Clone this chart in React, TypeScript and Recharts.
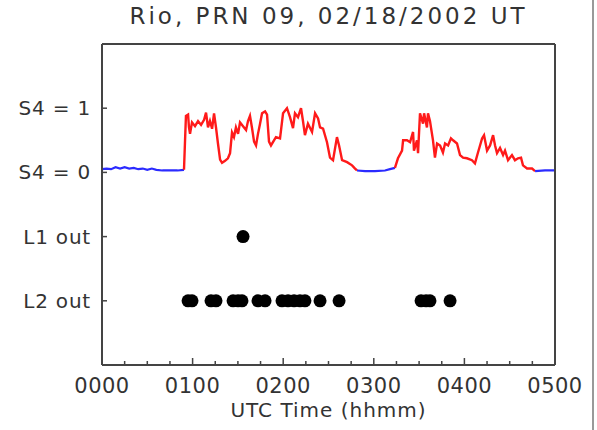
import React from 'react';
import { ComposedChart, Line, Scatter, XAxis, YAxis } from 'recharts';

// Time in minutes after 0000 UT, S4 index values
const quietStart = [
  { t: 0, s4: 0.05 }, { t: 3, s4: 0.06 }, { t: 6, s4: 0.05 }, { t: 9, s4: 0.08 },
  { t: 12, s4: 0.06 }, { t: 15, s4: 0.08 }, { t: 18, s4: 0.06 }, { t: 21, s4: 0.07 },
  { t: 24, s4: 0.05 }, { t: 27, s4: 0.06 }, { t: 30, s4: 0.04 }, { t: 33, s4: 0.06 },
  { t: 36, s4: 0.04 }, { t: 40, s4: 0.03 }, { t: 45, s4: 0.03 }, { t: 50, s4: 0.03 },
  { t: 54.3, s4: 0.04 },
];

const activeFirst = [
  { t: 54.3, s4: 0.04 }, { t: 55, s4: 0.5 }, { t: 55.6, s4: 0.88 }, { t: 57, s4: 0.9 },
  { t: 57.6, s4: 0.7 }, { t: 58.3, s4: 0.6 }, { t: 59.6, s4: 0.78 }, { t: 61.6, s4: 0.72 },
  { t: 63.6, s4: 0.8 }, { t: 65.6, s4: 0.74 }, { t: 67.6, s4: 0.82 }, { t: 68.9, s4: 0.93 },
  { t: 70.2, s4: 0.7 }, { t: 71.5, s4: 0.8 }, { t: 72.9, s4: 0.68 }, { t: 74.2, s4: 0.92 },
  { t: 75.5, s4: 0.7 }, { t: 76.8, s4: 0.45 }, { t: 78.2, s4: 0.2 }, { t: 79.5, s4: 0.15 },
  { t: 81.5, s4: 0.18 }, { t: 83.4, s4: 0.22 }, { t: 84.8, s4: 0.3 }, { t: 86.1, s4: 0.62 },
  { t: 87.4, s4: 0.55 }, { t: 88.7, s4: 0.7 }, { t: 90.1, s4: 0.6 }, { t: 91.4, s4: 0.78 },
  { t: 93.4, s4: 0.72 }, { t: 95.4, s4: 0.66 }, { t: 96.7, s4: 0.8 }, { t: 98, s4: 0.88 },
  { t: 99.3, s4: 0.7 }, { t: 100.7, s4: 0.48 }, { t: 102, s4: 0.42 }, { t: 103.3, s4: 0.6 },
  { t: 104.6, s4: 0.75 }, { t: 106, s4: 0.92 }, { t: 108, s4: 0.95 }, { t: 109.3, s4: 0.9 },
  { t: 110.6, s4: 0.48 }, { t: 111.9, s4: 0.42 }, { t: 113.9, s4: 0.5 }, { t: 115.2, s4: 0.55 },
  { t: 117.9, s4: 0.53 }, { t: 119.9, s4: 0.92 }, { t: 122.5, s4: 1.0 }, { t: 124.5, s4: 0.86 },
  { t: 126.5, s4: 0.69 }, { t: 127.8, s4: 0.92 }, { t: 129.8, s4: 0.86 }, { t: 131.8, s4: 1.0 },
  { t: 133.1, s4: 0.8 }, { t: 134.4, s4: 0.58 }, { t: 136.4, s4: 0.76 }, { t: 139.1, s4: 0.63 },
  { t: 141.1, s4: 0.92 }, { t: 143.1, s4: 0.84 }, { t: 144.4, s4: 0.7 }, { t: 146.4, s4: 0.68 },
  { t: 149, s4: 0.47 }, { t: 151, s4: 0.23 }, { t: 153, s4: 0.19 }, { t: 155.6, s4: 0.55 },
  { t: 157, s4: 0.42 }, { t: 159, s4: 0.19 }, { t: 162.3, s4: 0.16 }, { t: 165.6, s4: 0.11 },
  { t: 167.6, s4: 0.06 }, { t: 168.9, s4: 0.03 },
];

const quietMiddle = [
  { t: 168.9, s4: 0.03 }, { t: 174.2, s4: 0.02 }, { t: 180.8, s4: 0.02 },
  { t: 187.4, s4: 0.03 }, { t: 190.7, s4: 0.05 }, { t: 194, s4: 0.07 },
];

const activeSecond = [
  { t: 194, s4: 0.07 }, { t: 196, s4: 0.22 }, { t: 198.7, s4: 0.34 }, { t: 199.4, s4: 0.5 },
  { t: 202, s4: 0.5 }, { t: 204, s4: 0.47 }, { t: 206, s4: 0.63 }, { t: 206.6, s4: 0.34 },
  { t: 208.6, s4: 0.5 }, { t: 209.3, s4: 0.3 }, { t: 210.6, s4: 0.92 }, { t: 212.6, s4: 0.76 },
  { t: 213.3, s4: 0.92 }, { t: 215.2, s4: 0.7 }, { t: 215.9, s4: 0.92 }, { t: 217.2, s4: 0.8 },
  { t: 219.2, s4: 0.5 }, { t: 220.5, s4: 0.23 }, { t: 221.9, s4: 0.45 }, { t: 223.9, s4: 0.42 },
  { t: 225.8, s4: 0.31 }, { t: 227.2, s4: 0.45 }, { t: 229.2, s4: 0.42 }, { t: 231.1, s4: 0.53 },
  { t: 232.5, s4: 0.5 }, { t: 235.1, s4: 0.45 }, { t: 237.1, s4: 0.27 }, { t: 239.1, s4: 0.23 },
  { t: 241.7, s4: 0.22 }, { t: 245, s4: 0.19 }, { t: 247, s4: 0.14 }, { t: 249, s4: 0.31 },
  { t: 251.7, s4: 0.53 }, { t: 253, s4: 0.58 }, { t: 255, s4: 0.34 }, { t: 257, s4: 0.42 },
  { t: 259, s4: 0.58 }, { t: 260.3, s4: 0.42 }, { t: 261.6, s4: 0.3 }, { t: 263.6, s4: 0.38 },
  { t: 265.6, s4: 0.27 }, { t: 266.9, s4: 0.34 }, { t: 268.9, s4: 0.19 }, { t: 271.5, s4: 0.27 },
  { t: 273.5, s4: 0.19 }, { t: 275.5, s4: 0.22 }, { t: 277.5, s4: 0.23 }, { t: 278.8, s4: 0.11 },
  { t: 281.5, s4: 0.06 }, { t: 284.8, s4: 0.06 }, { t: 286.8, s4: 0.02 },
];

const quietEnd = [
  { t: 286.8, s4: 0.02 }, { t: 293.4, s4: 0.03 }, { t: 300, s4: 0.03 },
];

// loss-of-lock times (minutes)
const l1OutTimes = [93.4];
const l2OutTimes = [57, 59.6, 72.2, 75.5, 86.8, 90.1, 92.7, 103.3, 108, 119.2, 123.2, 127.2, 131.1, 134.4, 144.4, 157, 211.3, 214.6, 217.2, 230.5];

const xTicks = [0, 15, 30, 45, 60, 75, 90, 105, 120, 135, 150, 165, 180, 195, 210, 225, 240, 255, 270, 285, 300];
const xTickLabels: Record<number, string> = { 0: '0000', 60: '0100', 120: '0200', 180: '0300', 240: '0400', 300: '0500' };
const yTicks = [-2, -1, 0, 1];
const yTickLabels: Record<number, string> = { 1: 'S4 = 1', 0: 'S4 = 0', '-1': 'L1 out', '-2': 'L2 out' };

const L1_ROW = -1;
const L2_ROW = -2;

const frameColor = '#444';
const textColor = '#333';
const font = 'DejaVu Sans';

const l1Points = l1OutTimes.map(t => ({ t, row: L1_ROW }));
const l2Points = l2OutTimes.map(t => ({ t, row: L2_ROW }));

const BottomTick = (props: any) => {
  const { x, y, payload } = props;
  const major = payload.value % 60 === 0;
  return (
    <g>
      <line x1={x} x2={x} y1={y} y2={y - (major ? 7 : 4)} stroke={frameColor} strokeWidth={1.5} />
      {major && (
        <text x={x} y={y + 28} textAnchor="middle" fill={textColor} fontFamily={font} fontSize={21} letterSpacing={0.5}>
          {xTickLabels[payload.value]}
        </text>
      )}
    </g>
  );
};

const TopTick = (props: any) => {
  const { x, y, payload } = props;
  const major = payload.value % 60 === 0;
  return <line x1={x} x2={x} y1={y} y2={y + (major ? 7 : 4)} stroke={frameColor} strokeWidth={1.5} />;
};

const LeftTick = (props: any) => {
  const { x, y, payload } = props;
  return (
    <g>
      <line x1={x} x2={x + 5} y1={y} y2={y} stroke={frameColor} strokeWidth={1.5} />
      <text x={x - 11} y={y} dy={7} textAnchor="end" fill={textColor} fontFamily={font} fontSize={20} letterSpacing={0.8}>
        {yTickLabels[payload.value]}
      </text>
    </g>
  );
};

const RightTick = (props: any) => {
  const { x, y } = props;
  return <line x1={x} x2={x - 5} y1={y} y2={y} stroke={frameColor} strokeWidth={1.5} />;
};

const Dot = (p: any) => <circle cx={p.cx} cy={p.cy} r={6.5} fill="#000" />;

export default function App() {
  return (
    <div style={{ position: 'absolute', left: 0, top: 0, width: 597, height: 430, background: '#fff' }}>
      <div
        style={{
          position: 'absolute', left: 102, top: 3, width: 453, textAlign: 'center',
          fontFamily: font, fontSize: 23, letterSpacing: 3, color: textColor, whiteSpace: 'nowrap',
        }}
      >
        Rio, PRN 09, 02/18/2002 UT
      </div>
      <div
        style={{
          position: 'absolute', left: 102, top: 398, width: 453, textAlign: 'center',
          fontFamily: font, fontSize: 20, letterSpacing: 1, color: textColor, whiteSpace: 'nowrap',
        }}
      >
        UTC Time (hhmm)
      </div>
      <div style={{ position: 'absolute', left: 592, top: 0, width: 2, height: 430, background: '#999' }} />
      <ComposedChart width={597} height={430} margin={{ top: 0, right: 0, bottom: 0, left: 0 }}>
        <XAxis
          xAxisId="bottom" dataKey="t" type="number" domain={[0, 300]} ticks={xTicks}
          orientation="bottom" height={65} tickSize={0} tickMargin={0} tickLine={false}
          axisLine={{ stroke: frameColor, strokeWidth: 2 }} tick={<BottomTick />} interval={0}
        />
        <XAxis
          xAxisId="top" dataKey="t" type="number" domain={[0, 300]} ticks={xTicks}
          orientation="top" height={44} tickSize={0} tickMargin={0} tickLine={false}
          axisLine={{ stroke: frameColor, strokeWidth: 2 }} tick={<TopTick />} interval={0}
        />
        <YAxis
          yAxisId="left" type="number" domain={[-3, 2]} ticks={yTicks} width={102}
          tickSize={0} tickMargin={0} tickLine={false}
          axisLine={{ stroke: frameColor, strokeWidth: 2 }} tick={<LeftTick />} interval={0}
        />
        <YAxis
          yAxisId="right" orientation="right" type="number" domain={[-3, 2]} ticks={yTicks} width={42}
          tickSize={0} tickMargin={0} tickLine={false}
          axisLine={{ stroke: frameColor, strokeWidth: 2 }} tick={<RightTick />} interval={0}
        />
        <Line xAxisId="bottom" yAxisId="left" data={quietStart} dataKey="s4" type="linear" stroke="#2b2bff" strokeWidth={2.2} dot={false} isAnimationActive={false} />
        <Line xAxisId="bottom" yAxisId="left" data={activeFirst} dataKey="s4" type="linear" stroke="#ff1a1a" strokeWidth={2.4} dot={false} isAnimationActive={false} />
        <Line xAxisId="bottom" yAxisId="left" data={quietMiddle} dataKey="s4" type="linear" stroke="#2b2bff" strokeWidth={2.2} dot={false} isAnimationActive={false} />
        <Line xAxisId="bottom" yAxisId="left" data={activeSecond} dataKey="s4" type="linear" stroke="#ff1a1a" strokeWidth={2.4} dot={false} isAnimationActive={false} />
        <Line xAxisId="bottom" yAxisId="left" data={quietEnd} dataKey="s4" type="linear" stroke="#2b2bff" strokeWidth={2.2} dot={false} isAnimationActive={false} />
        <Scatter xAxisId="bottom" yAxisId="left" data={l1Points} dataKey="row" shape={Dot} isAnimationActive={false} />
        <Scatter xAxisId="bottom" yAxisId="left" data={l2Points} dataKey="row" shape={Dot} isAnimationActive={false} />
      </ComposedChart>
    </div>
  );
}
